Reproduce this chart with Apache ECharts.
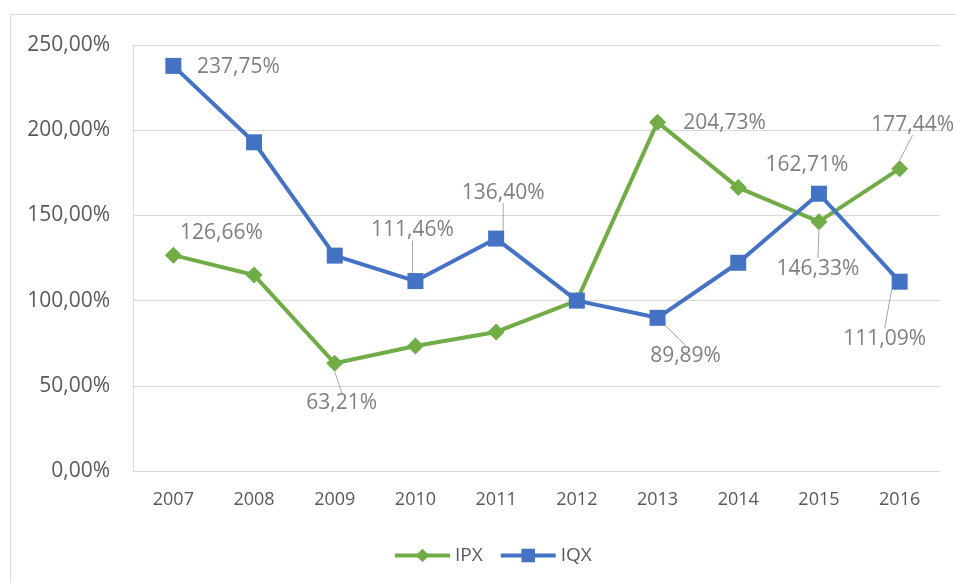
<!DOCTYPE html>
<html>
<head>
<meta charset="utf-8">
<script src="https://cdn.jsdelivr.net/npm/echarts@6/dist/echarts.min.js"></script>
<style>html,body{margin:0;padding:0;background:#fff;}#c{width:956px;height:583px;}</style>
</head>
<body>
<div id="c"></div>
<script>
const categories = ['2007','2008','2009','2010','2011','2012','2013','2014','2015','2016'];
const ipxValues = [126.66, 115.0, 63.21, 73.4, 81.6, 100.0, 204.73, 166.3, 146.33, 177.44];
const iqxValues = [237.75, 192.9, 126.4, 111.46, 136.40, 100.0, 89.89, 122.2, 162.71, 111.09];
const seriesNames = ['IPX', 'IQX'];

// label placement (offset of label centre from its point) and leader-line flags
const ipxLabelPlace = [[48,-22,false], null, [7,40,true], null, null, null, [67,1,false], null, [-1,47,true], [13,-44,true]];
const iqxLabelPlace = [[65,1,false], null, null, [-3,-51,true], [7,-46,true], null, [28,38,true], null, [-12,-29,false], [-15,57,true]];

const fmtPct = v => Number(v).toFixed(2).replace('.', ',') + '%';
const FONT = '"Open Sans", "Liberation Sans", sans-serif';

function buildData(values, places) {
  return values.map((v, i) => {
    const p = places[i];
    return {
      value: v,
      label: { show: !!p },
      labelLine: { show: !!(p && p[2]) }
    };
  });
}

function makeSeries(name, values, places, color, symbol, size) {
  return {
    name: name,
    type: 'line',
    data: buildData(values, places),
    symbol: symbol,
    symbolSize: size,
    lineStyle: { color: color, width: 4 },
    itemStyle: { color: color },
    label: {
      position: 'inside',
      formatter: p => fmtPct(p.value),
      color: '#7f7f7f',
      fontFamily: FONT,
      fontSize: 21
    },
    labelLine: {
      lineStyle: { color: '#a6a6a6', width: 1 }
    },
    labelLayout: function (params) {
      const p = places[params.dataIndex];
      if (!p) return {};
      return { dx: p[0], dy: p[1], hideOverlap: false };
    },
    emphasis: { disabled: true },
    animation: false
  };
}

const chart = echarts.init(document.getElementById('c'));
chart.setOption({
  backgroundColor: '#fff',
  animation: false,
  graphic: [{
    type: 'rect',
    shape: { x: 10.5, y: 14.5, width: 1200, height: 1000 },
    style: { fill: 'none', stroke: '#d9d9d9', lineWidth: 1 },
    silent: true
  }],
  grid: { left: 133, right: 16, top: 45, bottom: 112, containLabel: false },
  legend: {
    data: seriesNames,
    top: 541,
    left: 388,
    itemWidth: 55,
    itemHeight: 17,
    itemGap: 16,
    lineStyle: { width: 4 },
    textStyle: { color: '#595959', fontFamily: FONT, fontSize: 19 }
  },
  xAxis: {
    type: 'category',
    data: categories,
    boundaryGap: true,
    axisLine: { show: true, lineStyle: { color: '#d9d9d9', width: 1 } },
    axisTick: { show: false },
    axisLabel: { color: '#595959', fontFamily: FONT, fontSize: 18, margin: 20 }
  },
  yAxis: {
    type: 'value',
    min: 0,
    max: 250,
    interval: 50,
    axisLine: { show: true, lineStyle: { color: '#d9d9d9', width: 1 } },
    axisTick: { show: false },
    splitLine: { lineStyle: { color: '#d9d9d9', width: 1 } },
    axisLabel: { color: '#595959', fontFamily: FONT, fontSize: 21, margin: 23, formatter: v => fmtPct(v) }
  },
  series: [
    makeSeries(seriesNames[0], ipxValues, ipxLabelPlace, '#70ad47', 'diamond', 17),
    makeSeries(seriesNames[1], iqxValues, iqxLabelPlace, '#4472c4', 'rect', 16)
  ]
});
</script>
</body>
</html>
